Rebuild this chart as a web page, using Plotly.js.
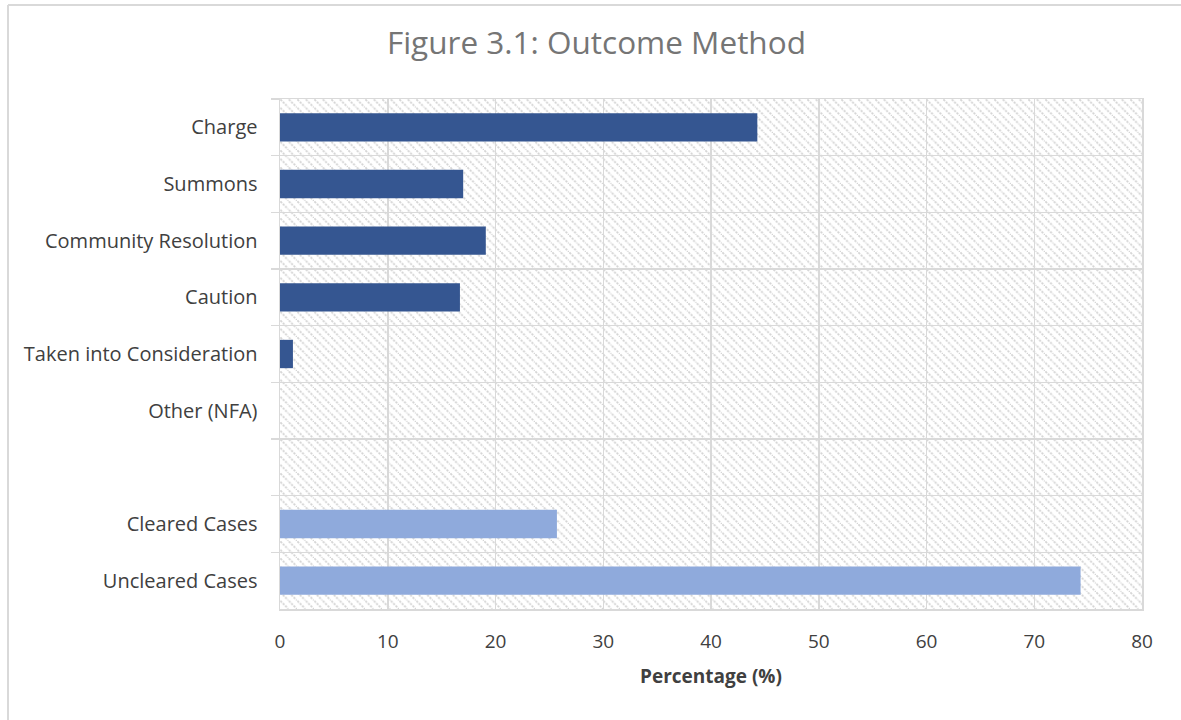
<!DOCTYPE html>
<html>
<head>
<meta charset="utf-8">
<script src="https://cdn.plot.ly/plotly-3.0.1.min.js"></script>
<style>
  html, body { margin: 0; padding: 0; background: #fff; }
  #chart { width: 1181px; height: 720px; }
</style>
</head>
<body>
<div id="chart"></div>
<script>
// Outcome categories, listed top to bottom; the blank entry is a spacer row.
const methodLabels = ["Charge", "Summons", "Community Resolution", "Caution",
                      "Taken into Consideration", "Other (NFA)", " "];
const methodValues = [44.3, 17.0, 19.1, 16.7, 1.2, 0, null];

const clearanceLabels = ["Cleared Cases", "Uncleared Cases"];
const clearanceValues = [25.7, 74.3];

const xTicks = [0, 10, 20, 30, 40, 50, 60, 70, 80];

const FONT = "'Open Sans', 'Noto Sans', sans-serif";

// Diagonal hatch used as the plot-area background
const hatchSvg =
  '<svg xmlns="http://www.w3.org/2000/svg" width="862" height="510">' +
  '<defs><pattern id="h" width="8.5" height="8.5" patternUnits="userSpaceOnUse">' +
  '<path d="M-2,-2 L10.5,10.5 M-2,6.5 L2,10.5 M6.5,-2 L10.5,2" stroke="#d3d3d3" stroke-width="1.8" stroke-dasharray="2.2,1.2"/>' +
  '</pattern></defs><rect width="100%" height="100%" fill="url(#h)"/></svg>';
const hatchUri = "data:image/svg+xml;base64," + btoa(hatchSvg);

const allLabels = methodLabels.concat(clearanceLabels);

const traces = [
  {
    type: "bar",
    orientation: "h",
    y: methodLabels,
    x: methodValues,
    marker: { color: "#355691" },
    width: 0.5,
    hoverinfo: "x+y"
  },
  {
    type: "bar",
    orientation: "h",
    y: clearanceLabels,
    x: clearanceValues,
    marker: { color: "#8faadc" },
    width: 0.5,
    hoverinfo: "x+y"
  }
];

const layout = {
  width: 1181,
  height: 720,
  margin: { l: 280, r: 39, t: 99, b: 111 },
  paper_bgcolor: "#ffffff",
  plot_bgcolor: "rgba(0,0,0,0)",
  showlegend: false,
  barmode: "overlay",
  font: { family: FONT, color: "#404040" },
  title: {
    text: "Figure 3.1: Outcome Method",
    font: { family: FONT, size: 31.5, color: "#757575" },
    x: 0.505, xanchor: "center",
    y: 0.94, yanchor: "middle"
  },
  xaxis: {
    range: [0, 80],
    tickvals: xTicks,
    ticktext: xTicks.map(String),
    showgrid: true,
    gridcolor: "#d9d9d9",
    gridwidth: 1.5,
    zeroline: false,
    showline: true,
    linecolor: "#d9d9d9",
    linewidth: 1.5,
    mirror: true,
    ticks: "",
    tickfont: { family: FONT, size: 19, color: "#404040" },
    ticklabelstandoff: 15,
    title: {
      text: "<b>Percentage (%)</b>",
      font: { family: FONT, size: 19, color: "#404040" },
      standoff: 16
    },
    fixedrange: true
  },
  yaxis: {
    type: "category",
    categoryorder: "array",
    categoryarray: allLabels,
    autorange: "reversed",
    tickson: "boundaries",
    showgrid: true,
    gridcolor: "#d9d9d9",
    gridwidth: 1.5,
    ticks: "outside",
    ticklen: 8,
    tickcolor: "#d9d9d9",
    tickwidth: 1.5,
    showline: true,
    linecolor: "#d9d9d9",
    linewidth: 1.5,
    mirror: true,
    tickfont: { family: FONT, size: 20, color: "#404040" },
    ticklabelstandoff: 17,
    fixedrange: true
  },
  images: [{
    source: hatchUri,
    xref: "paper", yref: "paper",
    x: 0, y: 1, sizex: 1, sizey: 1,
    xanchor: "left", yanchor: "top",
    sizing: "stretch",
    layer: "below"
  }],
  shapes: [
    // outer chart frame (top and left edges)
    { type: "line", xref: "paper", yref: "paper",
      x0: -272 / 862, x1: 1.06, y0: 1 + 94 / 510, y1: 1 + 94 / 510,
      line: { color: "#d9d9d9", width: 2 } },
    { type: "line", xref: "paper", yref: "paper",
      x0: -272 / 862, x1: -272 / 862, y0: 1 + 94 / 510, y1: -0.25,
      line: { color: "#d9d9d9", width: 2 } }
  ]
};

Plotly.newPlot("chart", traces, layout, { displayModeBar: false, staticPlot: true });
</script>
</body>
</html>
